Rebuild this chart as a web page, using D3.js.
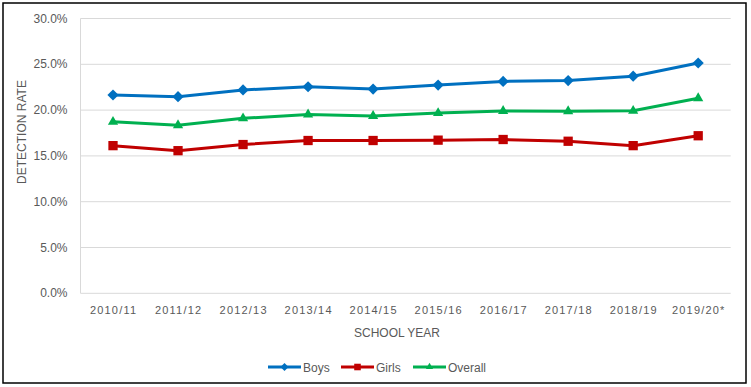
<!DOCTYPE html>
<html>
<head>
<meta charset="utf-8">
<script src="https://cdn.jsdelivr.net/npm/d3@7"></script>
<style>
  body { margin: 0; background: #fff; }
  text { font-family: "Liberation Sans", Arial, sans-serif; fill: #595959; }
</style>
</head>
<body>
<div class="chart"></div>
<script>
const years = ['2010/11', '2011/12', '2012/13', '2013/14', '2014/15', '2015/16', '2016/17', '2017/18', '2018/19', '2019/20*'];
const boys = [21.65, 21.47, 22.2, 22.55, 22.3, 22.73, 23.13, 23.22, 23.7, 25.14];
const girls = [16.12, 15.57, 16.24, 16.68, 16.68, 16.72, 16.79, 16.6, 16.12, 17.2];
const overall = [18.72, 18.35, 19.1, 19.52, 19.36, 19.67, 19.9, 19.88, 19.92, 21.3];
const yTicks = [0, 5, 10, 15, 20, 25, 30];

const series = [
  {name: 'Boys', values: boys, color: '#0070C0', marker: d3.symbolDiamond2, size: 80},
  {name: 'Girls', values: girls, color: '#C00000', marker: d3.symbolSquare2, size: 110},
  {name: 'Overall', values: overall, color: '#00B050', marker: d3.symbolTriangle2, size: 75}
];

const width = 751;
const height = 387;
const margin = {top: 18.5, left: 80.5, right: 20.3, bottom: 93.7};

const svg = d3.select('.chart').append('svg')
  .attr('width', width).attr('height', height);

// outer frame
svg.append('rect')
  .attr('x', 3).attr('y', 3).attr('width', 743).attr('height', 380)
  .attr('fill', 'none').attr('stroke', '#000').attr('stroke-width', 1.5);

const x = d3.scaleBand().domain(years)
  .range([margin.left, width - margin.right]);
const y = d3.scaleLinear().domain([0, 30])
  .range([height - margin.bottom, margin.top]);

// gridlines
svg.append('g').selectAll('line').data(yTicks).enter().append('line')
  .attr('x1', margin.left).attr('x2', width - margin.right)
  .attr('y1', d => y(d)).attr('y2', d => y(d))
  .attr('stroke', '#D9D9D9').attr('stroke-width', 1);

svg.append('line')
  .attr('x1', margin.left).attr('x2', margin.left)
  .attr('y1', y(0)).attr('y2', y(30))
  .attr('stroke', '#D9D9D9');

// y labels
svg.append('g').selectAll('text').data(yTicks).enter().append('text')
  .attr('x', 67.5).attr('y', d => y(d) + 4)
  .attr('text-anchor', 'end')
  .attr('font-size', 12)
  .text(d => d.toFixed(1) + '%');

// x labels
svg.append('g').selectAll('text').data(years).enter().append('text')
  .attr('x', d => x(d) + x.bandwidth() / 2 + 0.6)
  .attr('y', 314)
  .attr('text-anchor', 'middle')
  .attr('font-size', 11)
  .attr('letter-spacing', 1.2)
  .text(d => d);

svg.append('text')
  .attr('x', 397)
  .attr('y', 337)
  .attr('text-anchor', 'middle')
  .attr('font-size', 12)
  .text('SCHOOL YEAR');

svg.append('text')
  .attr('transform', 'translate(26, 132) rotate(-90)')
  .attr('text-anchor', 'middle')
  .attr('font-size', 12)
  .text('DETECTION RATE');

const line = d3.line()
  .x((d, i) => x(years[i]) + x.bandwidth() / 2)
  .y(d => y(d));

series.forEach(s => {
  svg.append('path')
    .datum(s.values)
    .attr('d', line)
    .attr('fill', 'none')
    .attr('stroke', s.color)
    .attr('stroke-width', 3);
  svg.append('g').selectAll('path').data(s.values).enter().append('path')
    .attr('transform', (d, i) => `translate(${x(years[i]) + x.bandwidth() / 2}, ${y(d)})`)
    .attr('d', d3.symbol().type(s.marker).size(s.size))
    .attr('fill', s.color);
});

// legend
const legendX = [268, 341, 413];
series.forEach((s, i) => {
  const g = svg.append('g').attr('transform', `translate(${legendX[i]}, 367)`);
  g.append('line').attr('x1', 0).attr('x2', 33).attr('y1', 0).attr('y2', 0)
    .attr('stroke', s.color).attr('stroke-width', 3);
  g.append('path').attr('transform', 'translate(16.5, 0)')
    .attr('d', d3.symbol().type(s.marker).size(s.size * 0.5))
    .attr('fill', s.color);
  g.append('text').attr('x', 35).attr('y', 4.5)
    .attr('font-size', 12)
    .text(s.name);
});
</script>
</body>
</html>
